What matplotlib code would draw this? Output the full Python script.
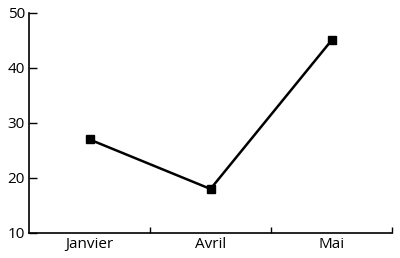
import matplotlib
matplotlib.use("Agg")
import matplotlib.pyplot as plt
from matplotlib.ticker import FixedLocator

categories = ["Janvier", "Avril", "Mai"]
values = [27, 18, 45]
yticks = [10, 20, 30, 40, 50]

plt.rcParams['font.family'] = ['Open Sans', 'DejaVu Sans']

fig = plt.figure(figsize=(4.0, 2.58), dpi=100)
ax = fig.add_axes([0.0725, 0.097, 0.9075, 0.853])

x = list(range(len(categories)))
ax.plot(x, values, color='black', linewidth=1.8, marker='s', markersize=5.5)

ax.set_xlim(-0.5, len(categories) - 0.5)
ax.set_ylim(10, 50)
ax.set_yticks(yticks)
ax.set_xticks(x)
ax.set_xticklabels(categories)
ax.xaxis.set_minor_locator(FixedLocator([i + 0.5 for i in x]))

ax.tick_params(axis='x', which='major', length=0, pad=3, labelsize=11)
ax.tick_params(axis='x', which='minor', direction='in', length=4, width=1)
ax.tick_params(axis='y', direction='in', length=6, width=1, labelsize=11, pad=3)

for s in ['top', 'right']:
    ax.spines[s].set_visible(False)
for s in ['left', 'bottom']:
    ax.spines[s].set_linewidth(1.2)

fig.savefig("out.png", dpi=100)
